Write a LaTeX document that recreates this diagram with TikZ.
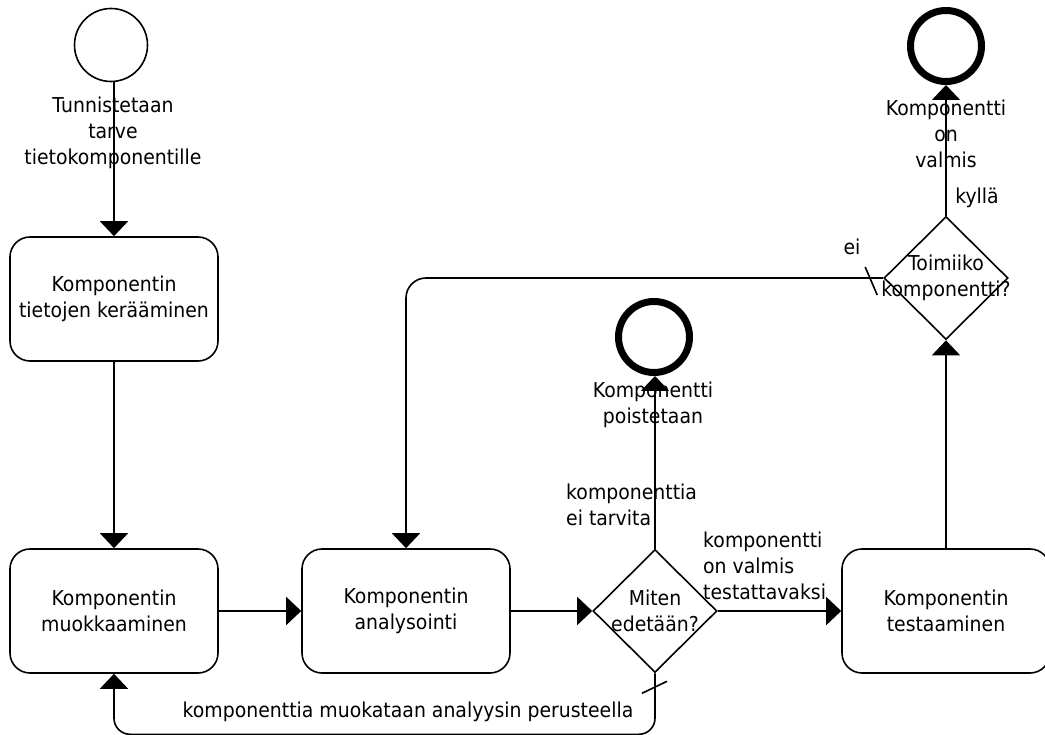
\documentclass[tikz,border=0pt]{standalone}
\usepackage{fontspec}
\setmainfont{DejaVu Sans}[FakeStretch=0.92]
\usetikzlibrary{arrows.meta,shapes.geometric,calc}
\begin{document}
\begin{tikzpicture}[x=1pt,y=-1pt,
  every node/.style={font=\fontsize{20.5}{26}\selectfont},
  flow/.style={line width=1.6pt},
  arrowed/.style={flow,-{Triangle[length=15pt,width=28pt]}},
  task/.style={draw,line width=1.6pt,rounded corners=20pt,minimum width=208pt,minimum height=124pt,align=center,inner sep=0pt},
  decision/.style={draw,diamond,line width=1.6pt,minimum width=124pt,minimum height=123pt,inner sep=0pt},
  startev/.style={draw,circle,line width=1.6pt,minimum size=73pt,inner sep=0pt},
  endev/.style={draw,circle,line width=7pt,minimum size=71pt,inner sep=0pt},
  lbl/.style={inner sep=0pt,align=center},
]
% canvas
\fill[white] (0,0) rectangle (1045,735);
\useasboundingbox (0,0) rectangle (1045,735);

% events
\node[startev] (s) at (111,45) {};
\node[endev] (e1) at (946,46) {};
\node[endev] (e2) at (654,337) {};

% tasks
\node[task] (b1) at (114,299) {Komponentin\\tietojen kerääminen};
\node[task] (b2) at (114,611) {Komponentin\\muokkaaminen};
\node[task] (b3) at (406,611) {Komponentin\\analysointi};
\node[task] (b4) at (946,611) {Komponentin\\testaaminen};

% gateways
\node[decision,label={[lbl]center:Miten\\edetään?}] (d1) at (655,611) {};
\node[decision,label={[lbl]center:Toimiiko\\komponentti?}] (d2) at (946,278) {};

% event and flow texts
\node[lbl] (tstart) at (113,133) {Tunnistetaan\\tarve\\tietokomponentille};
\node[lbl] (tdone) at (946,134) {Komponentti\\on\\valmis};
\node[lbl] (tyes) at (977,198) {kyllä};
\node[lbl] (tno) at (852,247) {ei};
\node[lbl] (tdel) at (653,405) {Komponentti\\poistetaan};
\node[lbl,anchor=west,align=left] (tnoneed) at (566,505) {komponenttia\\ei tarvita};
\node[lbl,anchor=west,align=left] (tready) at (703,566) {komponentti\\on valmis\\testattavaksi};
\node[lbl] (tmod) at (408,712) {komponenttia muokataan analyysin perusteella};

% sequence flows
\draw[arrowed] (b1.north |- s.south) -- (b1.north);
\draw[arrowed] (b1) -- (b2);
\draw[arrowed] (b2) -- (b3);
\draw[arrowed] (b3) -- (d1);
\draw[arrowed] (d1) -- (b4);
\draw[arrowed] (b4) -- (d2);
\draw[arrowed] (d2) -- (e1);
\draw[arrowed] (d1.north) -- (d1.north |- e2.south);
\draw[arrowed,rounded corners=20pt] (d2.west) -| (b3.north);
\draw[arrowed,rounded corners=16pt] (d1.south) -- ++(0,61) -| (b2.south);

% default-flow markers
\draw[flow] ($(d2.west)+(-18,-11)$) -- ($(d2.west)+(-6,17)$);
\draw[flow] ($(d1.south)+(-13,20)$) -- ($(d1.south)+(12,8)$);
\end{tikzpicture}
\end{document}
